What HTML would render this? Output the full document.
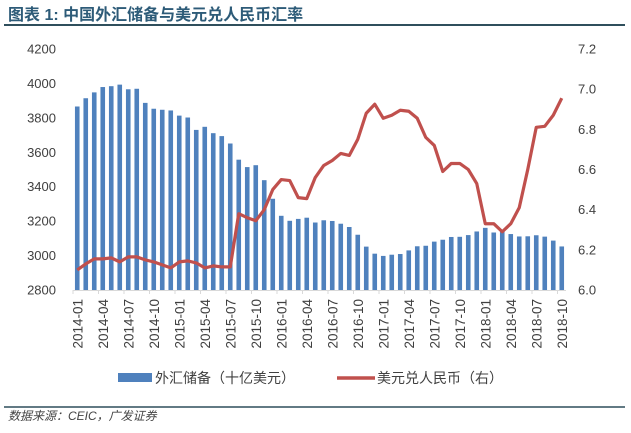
<!DOCTYPE html>
<html><head><meta charset="utf-8"><style>
body{margin:0;background:#fff;}
svg{display:block;font-family:"Liberation Sans","Noto Sans CJK SC",sans-serif;}
</style></head><body>
<svg id="chart" width="631" height="433" viewBox="0 0 631 433">
<text x="8" y="20" font-size="16" font-weight="bold" fill="#2d5b78" font-family="Liberation Sans,Noto Sans CJK SC,sans-serif">图表 1: 中国外汇储备与美元兑人民币汇率</text>
<line x1="4" y1="25" x2="625" y2="25" stroke="#2f4f5c" stroke-width="2"/>
<line x1="4" y1="407" x2="625" y2="407" stroke="#2f4f5c" stroke-width="1.5"/>
<text x="8" y="420" font-size="12" font-style="italic" fill="#444">数据来源：CEIC，广发证券</text>
<g id="plot"></g>
</svg>
<script>
const categories=[];for(let y=2014;y<=2018;y++)for(let m=1;m<=12;m++){if(y===2018&&m>10)break;categories.push(y+'-'+String(m).padStart(2,'0'));}
const reserves=[3866,3914,3948,3979,3984,3993,3966,3969,3887,3853,3847,3843,3813,3802,3730,3748,3711,3694,3651,3557,3514,3525,3438,3330,3231,3202,3213,3220,3192,3205,3201,3185,3166,3121,3052,3011,2998,3005,3009,3030,3054,3057,3081,3092,3108,3109,3119,3140,3161,3134,3143,3125,3111,3112,3118,3110,3087,3053];
const usdcny=[6.10,6.13,6.155,6.155,6.16,6.14,6.165,6.165,6.15,6.14,6.125,6.11,6.14,6.145,6.135,6.11,6.12,6.115,6.115,6.38,6.36,6.345,6.40,6.50,6.55,6.545,6.46,6.455,6.56,6.62,6.645,6.68,6.67,6.75,6.88,6.925,6.855,6.87,6.895,6.89,6.855,6.76,6.72,6.59,6.63,6.63,6.60,6.53,6.33,6.33,6.29,6.33,6.41,6.60,6.81,6.815,6.87,6.955];
const leftTicks=[2800,3000,3200,3400,3600,3800,4000,4200];
const rightTicks=[6.0,6.2,6.4,6.6,6.8,7.0,7.2];
const NS='http://www.w3.org/2000/svg';
const g=document.getElementById('plot');
const X0=73,X1=566,Y0=290,Y1=49;
const slot=(X1-X0)/categories.length;
const xc=i=>X0+slot*(i+0.5);
const yL=v=>Y0-(v-2800)/(4200-2800)*(Y0-Y1);
const yR=v=>Y0-(v-6.0)/(7.2-6.0)*(Y0-Y1);
function mk(t,a){const e=document.createElementNS(NS,t);for(const k in a)e.setAttribute(k,a[k]);g.appendChild(e);return e;}
leftTicks.forEach(v=>{const t=mk('text',{x:56,y:yL(v)+4.5,'font-size':13,fill:'#404040','text-anchor':'end'});t.textContent=v;

});
rightTicks.forEach(v=>{const t=mk('text',{x:578,y:yR(v)+4.5,'font-size':13,fill:'#404040'});t.textContent=v.toFixed(1);

});
reserves.forEach((v,i)=>{const r=mk('rect',{x:xc(i)-2.3,y:yL(v),width:4.6,height:Y0-yL(v),fill:'#4f81bd'});

});
const ax=mk('line',{x1:X0,y1:Y0+0.5,x2:X1,y2:Y0+0.5,stroke:'#d9d9d9','stroke-width':1});


categories.forEach((c,i)=>{if(i%3===0){const tk=mk('line',{x1:X0+slot*i,y1:Y0,x2:X0+slot*i,y2:Y0+4,stroke:'#d9d9d9'});


const t=mk('text',{x:0,y:0,'font-size':13.5,fill:'#404040','text-anchor':'end',transform:`translate(${xc(i)+5},299) rotate(-90)`});t.textContent=c;

}});
const pl=mk('polyline',{points:usdcny.map((v,i)=>xc(i)+','+yR(v)).join(' '),fill:'none',stroke:'#c0504d','stroke-width':3.2,'stroke-linejoin':'round'});


const lb=mk('rect',{x:118,y:373,width:34,height:9,fill:'#4f81bd'});


const lt=mk('text',{x:155,y:383,'font-size':14,fill:'#404040'});lt.textContent='外汇储备（十亿美元）';


const ll=mk('line',{x1:337,y1:378,x2:375,y2:378,stroke:'#c0504d','stroke-width':3.5});


const lt2=mk('text',{x:377,y:383,'font-size':14,fill:'#404040'});lt2.textContent='美元兑人民币（右）';


</script>
</body></html>
